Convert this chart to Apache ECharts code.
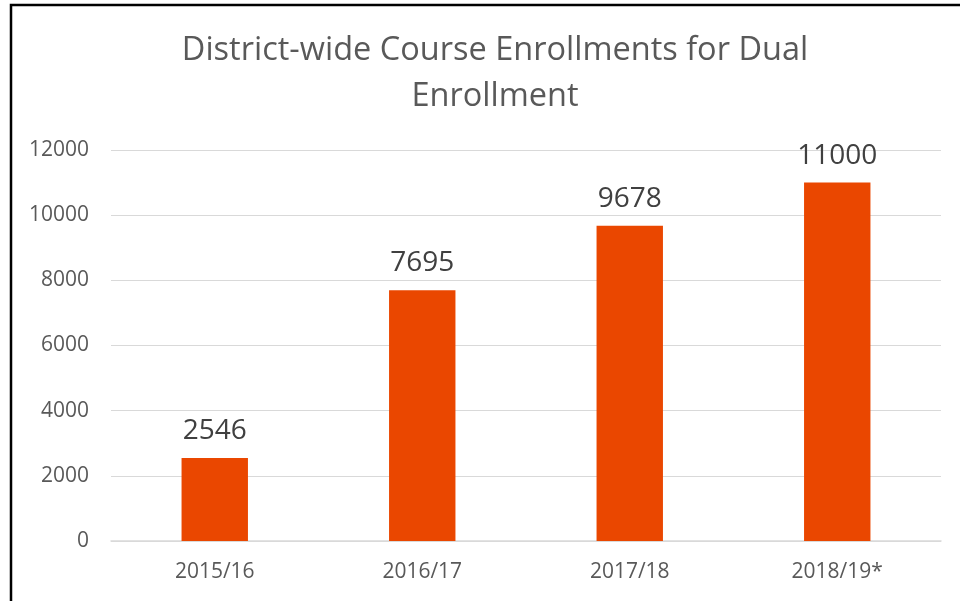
<!DOCTYPE html>
<html><head><meta charset="utf-8">
<script src="https://cdn.jsdelivr.net/npm/echarts@6/dist/echarts.min.js"></script>
<style>html,body{margin:0;padding:0;background:#fff}#c{width:960px;height:601px}</style>
</head><body><div id="c"></div>
<script>
const categories = ['2015/16', '2016/17', '2017/18', '2018/19*'];
const enrollments = [2546, 7695, 9678, 11000];
const titleText = 'District-wide Course Enrollments for Dual\nEnrollment';

const chart = echarts.init(document.getElementById('c'), null, {renderer: 'canvas'});
const FONT = '"Open Sans", "Liberation Sans", sans-serif';
chart.setOption({
  animation: false,
  backgroundColor: '#fff',
  graphic: [{
    type: 'rect', shape: {x: 11, y: 5, width: 1000, height: 700},
    style: {fill: 'none', stroke: '#000', lineWidth: 2.5}, silent: true
  }],
  title: {
    text: titleText, left: 490, top: 23, textAlign: 'center',
    textStyle: {fontFamily: FONT, fontSize: 32.5, fontWeight: 'normal', color: '#595959', lineHeight: 46}
  },
  grid: {left: 111, right: 19, top: 150, bottom: 60},
  xAxis: {
    type: 'category', data: categories,
    axisLine: {lineStyle: {color: '#d9d9d9', width: 1.5}},
    axisTick: {show: false},
    axisLabel: {fontFamily: FONT, fontSize: 21, color: '#595959', margin: 21}
  },
  yAxis: {
    type: 'value', min: 0, max: 12000, interval: 2000,
    axisLine: {show: false}, axisTick: {show: false},
    splitLine: {lineStyle: {color: '#d9d9d9', width: 1}},
    axisLabel: {fontFamily: FONT, fontSize: 21, color: '#595959', margin: 22,
      formatter: function (v) { return String(v); }}
  },
  series: [{
    type: 'bar', data: enrollments, barWidth: '32%',
    itemStyle: {color: '#EA4700'},
    label: {show: true, position: 'top', distance: 13, fontFamily: FONT, fontSize: 28, color: '#404040'}
  }]
});
</script></body></html>
